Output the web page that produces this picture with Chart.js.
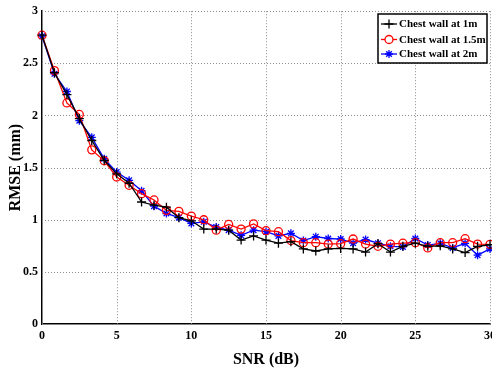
<!DOCTYPE html>
<html>
<head>
<meta charset="utf-8">
<script src="https://cdn.jsdelivr.net/npm/chart.js@4/dist/chart.umd.min.js"></script>
<style>
  html, body { margin: 0; padding: 0; background: #fff; }
  #wrap { width: 492px; height: 369px; }
</style>
</head>
<body>
<div id="wrap"><canvas id="c" width="492" height="369"></canvas></div>
<script>
// SNR sample points (dB)
const snr = [0, 0.833, 1.667, 2.5, 3.333, 4.167, 5, 5.833, 6.667, 7.5, 8.333, 9.167,
  10, 10.833, 11.667, 12.5, 13.333, 14.167, 15, 15.833, 16.667, 17.5, 18.333, 19.167,
  20, 20.833, 21.667, 22.5, 23.333, 24.167, 25, 25.833, 26.667, 27.5, 28.333, 29.167, 30];

// RMSE (mm) for each chest-wall distance
const rmse1m = [2.77, 2.41, 2.20, 1.97, 1.76, 1.57, 1.44, 1.35, 1.17, 1.14, 1.12, 1.02,
  0.99, 0.91, 0.91, 0.90, 0.805, 0.845, 0.805, 0.775, 0.79, 0.72, 0.70, 0.72,
  0.725, 0.72, 0.69, 0.77, 0.69, 0.745, 0.775, 0.745, 0.75, 0.72, 0.685, 0.745, 0.76];
const rmse15m = [2.77, 2.43, 2.12, 2.01, 1.67, 1.565, 1.41, 1.33, 1.25, 1.19, 1.09, 1.08,
  1.035, 1.00, 0.90, 0.955, 0.91, 0.96, 0.895, 0.885, 0.80, 0.78, 0.78, 0.767,
  0.77, 0.815, 0.767, 0.745, 0.767, 0.775, 0.78, 0.73, 0.78, 0.78, 0.818, 0.767, 0.764];
const rmse2m = [2.76, 2.40, 2.23, 1.95, 1.79, 1.585, 1.457, 1.378, 1.278, 1.13, 1.06, 1.02,
  0.965, 0.98, 0.93, 0.90, 0.85, 0.90, 0.885, 0.845, 0.87, 0.80, 0.837, 0.82,
  0.815, 0.775, 0.81, 0.775, 0.745, 0.74, 0.82, 0.757, 0.774, 0.73, 0.774, 0.66, 0.72];

const seriesNames = ['Chest wall at 1m', 'Chest wall at 1.5m', 'Chest wall at 2m'];

const serif = '"Liberation Serif", "Times New Roman", serif';

function pts(ys) { return ys.map((y, i) => ({ x: snr[i], y })); }

const styles = [
  { color: '#000000', shape: 'cross', radius: 4.5 },
  { color: '#ff0000', shape: 'circle', radius: 4 },
  { color: '#0000ff', shape: 'star', radius: 4 }
];
const allSeries = [rmse1m, rmse15m, rmse2m];

// Dotted grid at every tick, drawn under the data
const dottedGrid = {
  id: 'dottedGrid',
  beforeDatasetsDraw(chart) {
    const { ctx, chartArea: a, scales: { x, y } } = chart;
    ctx.save();
    ctx.strokeStyle = '#8c8c8c';
    ctx.lineWidth = 1;
    ctx.setLineDash([1, 2]);
    x.ticks.forEach(t => {
      const px = Math.round(x.getPixelForValue(t.value)) + 0.5;
      ctx.beginPath(); ctx.moveTo(px, a.top); ctx.lineTo(px, a.bottom); ctx.stroke();
    });
    y.ticks.forEach(t => {
      const py = Math.round(y.getPixelForValue(t.value)) + 0.5;
      ctx.beginPath(); ctx.moveTo(a.left, py); ctx.lineTo(a.right, py); ctx.stroke();
    });
    ctx.restore();
  }
};

// Boxed legend drawn in the upper-right corner of the plot
const boxLegend = {
  id: 'boxLegend',
  afterDatasetsDraw(chart) {
    const ctx = chart.ctx;
    const x0 = 378, y0 = 14, w = 109, h = 49;
    ctx.save();
    ctx.fillStyle = '#fff';
    ctx.fillRect(x0, y0, w, h);
    ctx.strokeStyle = '#000';
    ctx.lineWidth = 1.5;
    ctx.strokeRect(x0, y0, w, h);
    ctx.font = 'bold 11px ' + serif;
    ctx.textBaseline = 'middle';
    ctx.textAlign = 'left';
    const rows = [24, 39.5, 54];
    chart.data.datasets.forEach((ds, i) => {
      const y = rows[i];
      ctx.strokeStyle = ds.borderColor;
      ctx.lineWidth = 1.3;
      ctx.beginPath();
      ctx.moveTo(381, y);
      ctx.lineTo(397, y);
      ctx.stroke();
      ctx.fillStyle = '#fff';
      Chart.helpers.drawPoint(ctx, {
        pointStyle: ds.pointStyle, radius: ds.pointRadius, borderWidth: 1.3, rotation: 0
      }, 389, y);
      ctx.fillStyle = '#000';
      ctx.fillText(ds.label, 399, y + 0.5);
    });
    ctx.restore();
  }
};

new Chart(document.getElementById('c'), {
  type: 'line',
  data: {
    datasets: allSeries.map((ys, i) => ({
      label: seriesNames[i],
      data: pts(ys),
      borderColor: styles[i].color,
      backgroundColor: 'rgba(0,0,0,0)',
      pointBorderColor: styles[i].color,
      pointBackgroundColor: 'rgba(0,0,0,0)',
      pointStyle: styles[i].shape,
      pointRadius: styles[i].radius,
      pointBorderWidth: 1.3,
      borderWidth: 1.3,
      tension: 0,
      clip: false
    }))
  },
  options: {
    responsive: false,
    animation: false,
    devicePixelRatio: 1,
    layout: { autoPadding: false, padding: { top: 11, right: 2, left: 0, bottom: 0 } },
    plugins: { legend: { display: false }, tooltip: { enabled: false } },
    scales: {
      x: {
        type: 'linear',
        min: 0, max: 30,
        afterFit(s) { s.height = 45; s.paddingLeft = 0; s.paddingRight = 0; },
        ticks: {
          stepSize: 5, padding: 5, color: '#000',
          font: { family: serif, weight: 'bold', size: 12 },
          callback: v => String(v)
        },
        grid: { display: false, drawTicks: false },
        border: { display: true, color: '#000', width: 1.5 },
        title: {
          display: true, text: 'SNR (dB)', color: '#000',
          font: { family: serif, weight: 'bold', size: 16 },
          padding: { top: 3, bottom: 0 }
        }
      },
      y: {
        min: 0, max: 3,
        afterFit(s) { s.width = 42; },
        ticks: {
          stepSize: 0.5, padding: 4, color: '#000',
          font: { family: serif, weight: 'bold', size: 12 },
          callback: v => String(v)
        },
        grid: { display: false, drawTicks: false },
        border: { display: true, color: '#000', width: 1.5 },
        title: {
          display: true, text: 'RMSE (mm)', color: '#000',
          font: { family: serif, weight: 'bold', size: 16 },
          padding: { top: 6, bottom: 0 }
        }
      }
    }
  },
  plugins: [dottedGrid, boxLegend]
});
</script>
</body>
</html>
